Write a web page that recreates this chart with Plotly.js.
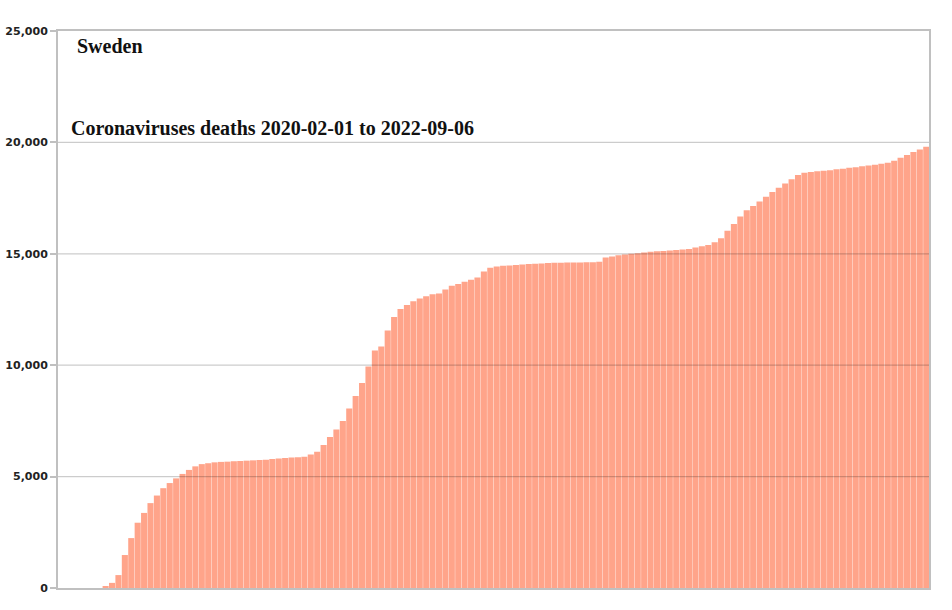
<!DOCTYPE html>
<html>
<head>
<meta charset="utf-8">
<script src="https://cdn.plot.ly/plotly-3.0.1.min.js"></script>
<style>
  html, body { margin: 0; padding: 0; background: #fff; }
  #chart { width: 952px; height: 610px; }
</style>
</head>
<body>
<div id="chart"></div>
<script>
// weekly cumulative deaths, first week starts 2020-02-01
let startDate = '2020-02-01';
let deaths = [
    0, 0, 0, 0, 0, 0, 0, 60, 230, 580,
    1480, 2240, 2930, 3370, 3810, 4150, 4480, 4710, 4920, 5120,
    5300, 5460, 5560, 5600, 5640, 5660, 5670, 5690, 5700, 5715,
    5730, 5745, 5760, 5790, 5810, 5830, 5855, 5870, 5890, 5990,
    6120, 6420, 6780, 7110, 7500, 8060, 8620, 9200, 9940, 10660,
    10840, 11560, 12160, 12520, 12700, 12870, 12990, 13100, 13180, 13220,
    13400, 13570, 13650, 13740, 13840, 13940, 14200, 14370, 14430, 14460,
    14480, 14500, 14520, 14540, 14555, 14570, 14590, 14595, 14600, 14605,
    14610, 14615, 14620, 14625, 14640, 14830, 14880, 14930, 14970, 15000,
    15030, 15060, 15090, 15110, 15130, 15150, 15170, 15190, 15215, 15280,
    15340, 15390, 15520, 15700, 16030, 16340, 16670, 16950, 17150, 17350,
    17560, 17770, 17960, 18150, 18350, 18540, 18640, 18670, 18700, 18730,
    18755, 18790, 18820, 18860, 18890, 18930, 18965, 19000, 19040, 19090,
    19180, 19310, 19440, 19570, 19680, 19800
];
let yticks = [0, 5000, 10000, 15000, 20000, 25000];
let gridlines = [5000, 10000, 15000, 20000];

let weeks = [];
let d0 = new Date(startDate + 'T00:00:00Z');
for(let i = 0; i < deaths.length; i++){
    let d = new Date(d0.getTime() + i*7*86400000);
    weeks.push(d.toISOString().slice(0, 10));
}

let trace = {
    x: weeks,
    y: deaths,
    type: 'bar',
    marker: {color: '#ffa48a', line: {width: 0}},
    hoverinfo: 'x+y'
};

// grid drawn over the bars, like the original
let shapes = gridlines.map(v => ({
    type: 'line', xref: 'paper', x0: 0, x1: 1, yref: 'y', y0: v, y1: v,
    layer: 'above', line: {color: 'rgba(0,0,0,0.2)', width: 1.3}
}));

let layout = {
    width: 952,
    height: 610,
    margin: {l: 58, r: 23, t: 31, b: 22},
    paper_bgcolor: '#fff',
    plot_bgcolor: '#fff',
    showlegend: false,
    bargap: 0.05,
    xaxis: {
        type: 'date',
        range: ['2020-01-29', '2022-09-06'],
        showticklabels: false,
        ticks: '',
        showgrid: false,
        zeroline: false,
        showline: true,
        mirror: true,
        linecolor: '#c0c0c0',
        linewidth: 2
    },
    yaxis: {
        range: [0, 25000],
        tickvals: yticks,
        tickformat: ',d',
        ticks: 'outside',
        ticklen: 6,
        tickcolor: '#c0c0c0',
        tickwidth: 2,
        showgrid: false,
        zeroline: false,
        showline: true,
        mirror: true,
        linecolor: '#c0c0c0',
        linewidth: 2,
        tickfont: {family: 'DejaVu Sans, sans-serif', size: 11, color: '#222', weight: 'bold'}
    },
    shapes: shapes,
    annotations: [
        {
            xref: 'paper', yref: 'paper', x: 0.0195, y: 0.973,
            xanchor: 'left', yanchor: 'middle', showarrow: false,
            text: 'Sweden',
            font: {family: 'Liberation Serif, serif', size: 20, color: '#111', weight: 'bold'}
        },
        {
            xref: 'paper', yref: 'paper', x: 0.0126, y: 0.826,
            xanchor: 'left', yanchor: 'middle', showarrow: false,
            text: 'Coronaviruses deaths 2020-02-01 to 2022-09-06',
            font: {family: 'Liberation Serif, serif', size: 20, color: '#111', weight: 'bold'}
        }
    ]
};

Plotly.newPlot('chart', [trace], layout, {displayModeBar: false, displaylogo: false});
</script>
</body>
</html>
